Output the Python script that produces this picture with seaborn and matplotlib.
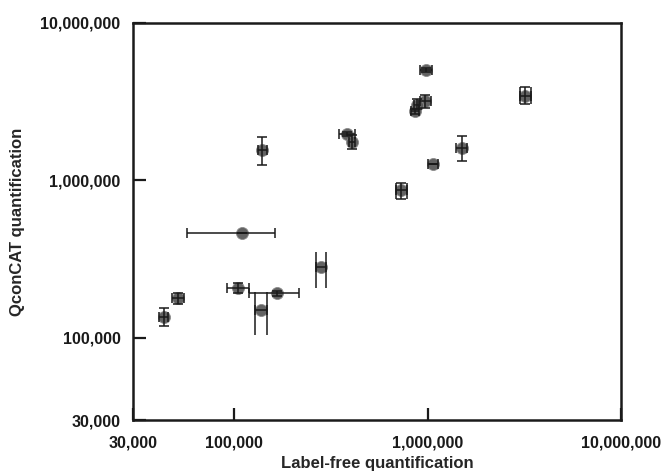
import numpy as np
import pandas as pd
import matplotlib
matplotlib.use("Agg")
import matplotlib.pyplot as plt
import seaborn as sns
from matplotlib.ticker import FuncFormatter, FixedLocator, NullLocator

# valores (label-free vs QconCAT)
labelfree = [43200, 51000, 110000, 105000, 137000, 167000, 282000, 140000, 385000,
             407000, 726000, 1070000, 1500000, 985000, 971000, 877000, 861000, 3200000]
labelfree_lo = [41000, 47600, 57300, 91400, 128000, 119000, 264000, 133000, 347000,
                392000, 684000, 1007000, 1400000, 915000, 910000, 850000, 820000, 2990000]
labelfree_hi = [45500, 55000, 163000, 119000, 147000, 216000, 300000, 147000, 423000,
                422000, 780000, 1137000, 1600000, 1060000, 1045000, 905000, 900000, 3430000]

qconcat = [136000, 179000, 463000, 207000, 150000, 192000, 280000, 1560000, 1970000,
           1750000, 865000, 1270000, 1610000, 5000000, 3190000, 3010000, 2740000, 3450000]
qconcat_lo = [118000, 165000, 463000, 192000, 103500, 185000, 208000, 1250000, 1900000,
              1590000, 765000, 1270000, 1320000, 4850000, 2870000, 2850000, 2650000, 3040000]
qconcat_hi = [155000, 192000, 463000, 223000, 195000, 199000, 352000, 1880000, 2040000,
              1930000, 960000, 1270000, 1910000, 5150000, 3510000, 3300000, 2830000, 3920000]

# puntos con barras dobles: cerrados (caja) y abiertos
boxed = [10, 17]
boxed_open = [4, 6]

ticks = [30000, 100000, 1000000, 10000000]

df = pd.DataFrame({
    "lf": labelfree, "lf_lo": labelfree_lo, "lf_hi": labelfree_hi,
    "qc": qconcat, "qc_lo": qconcat_lo, "qc_hi": qconcat_hi,
})

sns.set_theme(style="ticks")
plt.rcParams["font.family"] = ["Liberation Sans", "DejaVu Sans"]
plt.rcParams["font.weight"] = "bold"

fig = plt.figure(figsize=(6.63, 4.74), dpi=100)
ax = fig.add_axes([0.2006, 0.1139, 0.7361, 0.8376])

sns.scatterplot(data=df, x="lf", y="qc", ax=ax, s=75, color="#5a5a5a",
                edgecolor="#8a8a8a", linewidth=0.6, alpha=0.95, zorder=2, legend=False)

ecol = "#1a1a1a"
capped = df.drop(index=boxed_open)
ax.errorbar(capped["lf"], capped["qc"],
            xerr=[capped["lf"] - capped["lf_lo"], capped["lf_hi"] - capped["lf"]],
            yerr=[capped["qc"] - capped["qc_lo"], capped["qc_hi"] - capped["qc"]],
            fmt="none", ecolor=ecol, elinewidth=1.1, capsize=3.6,
            capthick=1.1, zorder=3)

# abiertos: barra x con tapas, barra y sin tapas
op = df.iloc[boxed_open]
ax.errorbar(op["lf"], op["qc"],
            xerr=[op["lf"] - op["lf_lo"], op["lf_hi"] - op["lf"]],
            fmt="none", ecolor=ecol, elinewidth=1.1, capsize=3.6,
            capthick=1.1, zorder=3)

b = df.iloc[boxed + boxed_open]
ax.vlines(b["lf_lo"], b["qc_lo"], b["qc_hi"], color=ecol, lw=1.1, zorder=3)
ax.vlines(b["lf_hi"], b["qc_lo"], b["qc_hi"], color=ecol, lw=1.1, zorder=3)

ax.set_xscale("log")
ax.set_yscale("log")
ax.set_xlim(ticks[0], ticks[-1])
ax.set_ylim(ticks[0], ticks[-1])

fmt = FuncFormatter(lambda v, p: f"{v:,.0f}")
for axis in (ax.xaxis, ax.yaxis):
    axis.set_major_locator(FixedLocator(ticks))
    axis.set_minor_locator(NullLocator())
    axis.set_major_formatter(fmt)

ax.tick_params(axis="both", which="major", direction="in", length=9, width=1.6,
               labelsize=11.5, colors=ecol, pad=9)
ax.tick_params(axis="x", pad=11)
for lab in ax.get_xticklabels() + ax.get_yticklabels():
    lab.set_fontweight("bold")

for s in ax.spines.values():
    s.set_linewidth(1.8)
    s.set_color(ecol)

ax.set_xlabel("Label-free quantification", fontsize=12, fontweight="bold", labelpad=4)
ax.set_ylabel("QconCAT quantification", fontsize=12, fontweight="bold", labelpad=11)

fig.savefig("out.png", dpi=100)
